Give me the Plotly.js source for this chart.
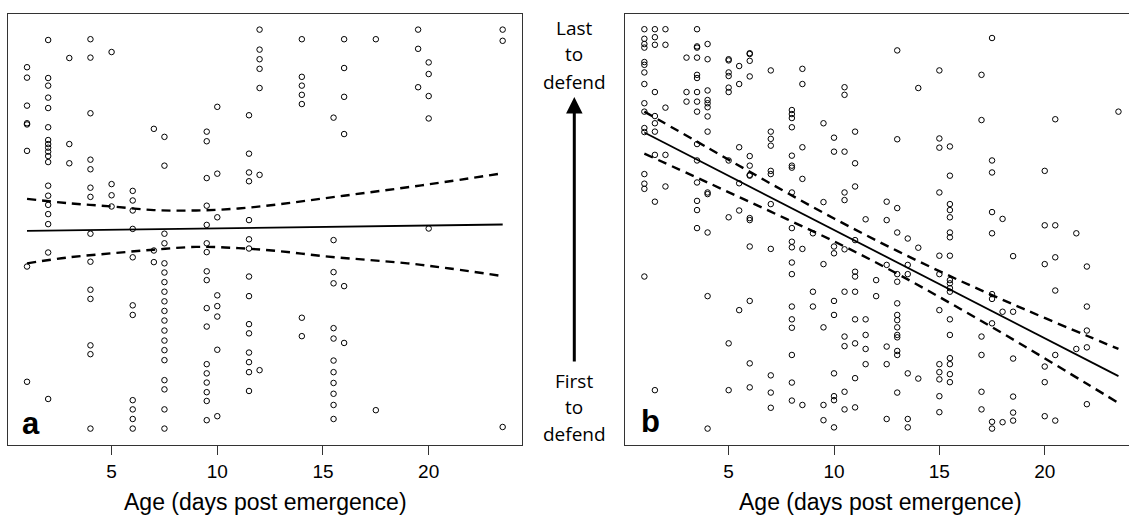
<!DOCTYPE html>
<html>
<head>
<meta charset="utf-8">
<script src="https://cdn.plot.ly/plotly-3.0.1.min.js"></script>
<style>html,body{margin:0;padding:0;background:#fff;}#chart{width:1129px;height:518px;}</style>
</head>
<body>
<div id="chart"></div>
<script>
// ---------- Panel a: points (age, relative defence order 0-100) ----------
const aX1 = [1,1,1,1,1,1,1,1];
const aY1 = [90.3,87.7,80.7,76.3,76.0,69.4,40.5,11.7];
const aX2 = [2,2,2,2,2,2,2,2,2,2,2,2,2,2,2,2,2,2,2];
const aY2 = [97.1,87.6,85.7,82.7,80.1,75.3,72.1,71.1,70.2,69.2,68.1,66.6,60.7,58.2,55.9,53.6,51.1,44.0,7.4];
const aX3 = [3,3,3];
const aY3 = [92.6,71.1,66.3];
const aX4 = [4,4,4,4,4,4,4,4,4,4,4,4,4,4];
const aY4 = [97.3,92.7,78.8,67.2,64.8,60.2,57.9,48.7,41.7,34.7,32.4,20.8,18.6,0.0];
const aX5 = [5,5,5,5];
const aY5 = [94.1,61.1,58.3,55.5];
const aX6 = [6,6,6,6,6,6,6,6,6,6,6];
const aY6 = [59.4,57.0,54.5,49.9,42.8,30.8,28.4,7.1,4.8,2.4,0.0];
const aX7 = [7,7,7];
const aY7 = [74.9,44.5,41.6];
const aX75 = [7.5,7.5,7.5,7.5,7.5,7.5,7.5,7.5,7.5,7.5,7.5,7.5,7.5,7.5,7.5,7.5,7.5,7.5,7.5];
const aY75 = [72.9,65.7,48.7,46.3,41.3,39.0,36.6,34.2,31.8,29.4,27.0,24.5,22.0,19.6,17.1,12.1,9.8,4.8,0.0];
const aX95 = [9.5,9.5,9.5,9.5,9.5,9.5,9.5,9.5,9.5,9.5,9.5,9.5,9.5,9.5,9.5,9.5,9.5];
const aY95 = [74.2,71.8,62.6,55.7,50.9,46.3,44.1,39.3,37.1,30.1,25.5,16.1,13.8,11.5,9.1,6.9,2.1];
const aX10 = [10,10,10,10,10,10,10,10];
const aY10 = [80.4,63.7,52.8,33.3,30.6,28.0,19.7,3.1];
const aX115 = [11.5,11.5,11.5,11.5,11.5,11.5,11.5,11.5,11.5,11.5,11.5,11.5,11.5,11.5,11.5];
const aY115 = [78.3,68.7,64.0,61.8,52.1,47.3,45.0,38.0,33.1,26.1,23.8,19.0,16.6,14.1,9.4];
const aX12 = [12,12,12,12,12,12,12];
const aY12 = [99.7,94.7,92.3,89.9,85.1,63.4,14.6];
const aX14 = [14,14,14,14,14,14,14];
const aY14 = [97.3,87.9,85.7,83.4,81.1,27.7,23.1];
const aX155 = [15.5,15.5,15.5,15.5,15.5,15.5,15.5,15.5,15.5,15.5,15.5,15.5];
const aY155 = [77.7,47.1,39.1,36.3,25.1,22.5,17.0,14.1,11.4,8.7,5.9,2.4];
const aX16 = [16,16,16,16,16,16];
const aY16 = [97.3,90.1,82.9,73.6,35.6,21.4];
const aXlate = [17.5,17.5,19.5,19.5,19.5,20,20,20,20,20,23.5,23.5,23.5];
const aYlate = [97.3,4.6,99.7,94.9,85.3,91.5,88.6,83.1,77.5,50.0,99.7,96.9,0.4];

// Panel a fitted line and confidence band
const aFitX = [1, 23.5];
const aFitY = [49.4, 51.0];
const aBandX = [1,3,5,7,9,11,13,15,17,19,21,23.5];
const aUpper = [57.4,56.3,55.5,54.6,54.5,55.0,56.1,57.5,58.9,60.3,61.8,63.8];
const aLower = [41.3,42.8,43.8,44.7,45.4,45.1,44.3,43.1,42.2,41.3,40.0,38.1];

// ---------- Panel b: points ----------
const bX1 = [1,1,1,1,1,1,1,1,1,1,1,1,1,1,1,1];
const bY1 = [99.8,97.4,96.1,95.2,91.6,90.9,89.0,86.1,81.3,79.2,75.1,74.1,63.6,61.2,59.9,38.0];
const bX15 = [1.5,1.5,1.5,1.5,1.5,1.5,1.5,1.5,1.5,1.5];
const bY15 = [99.8,97.8,95.9,84.1,78.1,76.3,74.2,68.4,56.7,9.6];
const bX2 = [2,2,2,2,2];
const bY2 = [99.8,95.9,80.2,68.4,60.5];
const bX3 = [3,3,3];
const bY3 = [92.7,84.1,81.7];
const bX35 = [3.5,3.5,3.5,3.5,3.5,3.5,3.5,3.5,3.5,3.5,3.5,3.5,3.5,3.5,3.5];
const bY35 = [99.8,95.5,95.2,92.7,88.4,87.6,84.1,81.7,79.2,71.1,67.0,61.5,56.9,54.6,50.1];
const bX4 = [4,4,4,4,4,4,4,4,4,4,4,4,4];
const bY4 = [96.1,92.3,84.5,82.1,81.3,80.3,78.0,74.2,59.0,58.6,49.0,33.1,0.0];
const bX5 = [5,5,5,5,5,5,5,5,5,5];
const bY5 = [92.3,92.0,89.0,88.1,85.2,84.1,67.0,52.8,21.3,9.6];
const bX55 = [5.5,5.5,5.5,5.5,5.5,5.5];
const bY55 = [90.6,86.1,70.3,61.3,54.5,29.6];
const bX6 = [6,6,6,6,6,6,6,6,6,6,6,6,6,6];
const bY6 = [93.8,93.6,91.9,88.0,68.1,65.7,63.4,63.2,52.6,52.1,45.5,31.9,16.3,10.3];
const bX7 = [7,7,7,7,7,7,7,7,7,7,7];
const bY7 = [89.5,74.2,72.4,70.7,64.4,63.6,56.1,44.9,13.3,9.0,5.2];
const bX8 = [8,8,8,8,8,8,8,8,8,8,8,8,8,8,8,8,8,8,8];
const bY8 = [79.6,78.6,77.6,75.3,68.2,65.7,65.2,59.0,50.1,46.7,45.3,41.5,38.6,30.5,27.3,25.2,18.4,11.5,7.0];
const bX85 = [8.5,8.5,8.5,8.5,8.5,8.5,9,9,9];
const bY85 = [89.9,86.1,70.3,62.4,44.9,5.9,48.8,34.2,30.5];
const bX95 = [9.5,9.5,9.5,9.5,9.5,9.5];
const bY95 = [76.3,56.6,41.1,25.3,5.9,2.1];
const bX10 = [10,10,10,10,10,10,10,10,10,10];
const bY10 = [72.7,69.2,45.5,43.8,31.9,28.4,13.8,8.1,7.1,0.3];
const bX105 = [10.5,10.5,10.5,10.5,10.5,10.5,10.5,10.5,10.5,10.5,10.5];
const bY105 = [85.3,83.4,69.2,59.0,57.1,44.8,34.2,23.0,20.6,9.2,4.8];
const bX11 = [11,11,11,11,11,11,11,11,11,11,11];
const bY11 = [74.2,66.3,60.5,47.1,39.2,38.0,34.2,27.3,21.3,12.6,5.3];
const bX115 = [11.5,11.5,11.5,11.5,11.5,12,12];
const bY115 = [52.3,27.3,23.4,19.9,16.1,37.1,33.1];
const bX125 = [12.5,12.5,12.5,12.5,12.5,12.5];
const bY125 = [56.7,52.1,40.9,20.5,16.1,2.4];
const bX13 = [13,13,13,13,13,13,13,13,13,13,13,13,13,13,13];
const bY13 = [94.5,72.3,55.1,49.0,38.6,36.7,31.3,28.4,27.1,25.3,23.4,22.8,19.4,18.4,9.0];
const bX135 = [13.5,13.5,13.5,13.5,13.5,13.5,14,14,14];
const bY135 = [47.5,40.9,38.6,13.8,2.4,0.3,85.1,45.2,12.5];
const bX15b = [15,15,15,15,15,15,15,15,15,15,15,15];
const bY15b = [89.5,72.5,70.2,59.0,43.2,38.6,29.6,16.1,14.1,12.3,8.1,4.1];
const bX155 = [15.5,15.5,15.5,15.5,15.5,15.5,15.5,15.5,15.5,15.5,15.5,15.5,15.5,15.5,15.5,15.5,15.5,15.5];
const bY155 = [70.5,63.2,56.1,54.6,52.8,49.0,47.8,43.2,37.1,36.3,35.1,34.2,27.3,23.4,17.6,16.1,13.6,11.6];
const bX17 = [17,17,17,17,17,17];
const bY17 = [88.4,77.1,23.0,18.4,9.2,4.8];
const bX175 = [17.5,17.5,17.5,17.5,17.5,17.5,17.5,17.5,17.5,17.5];
const bY175 = [97.6,67.0,64.0,54.1,48.8,33.6,32.4,26.3,1.7,0.0];
const bX18 = [18,18,18,18.5,18.5,18.5,18.5,18.5,18.5];
const bY18 = [52.4,29.2,1.6,43.1,29.2,17.5,8.0,4.0,2.0];
const bX20 = [20,20,20,20,20,20,20.5,20.5,20.5,20.5,20.5,20.5];
const bY20 = [64.4,50.8,41.1,15.5,11.6,3.1,77.3,50.8,42.8,34.5,18.4,2.0];
const bXlate = [21.5,21.5,22,22,22,22,22,23.5];
const bYlate = [48.8,19.9,40.5,30.5,24.5,20.3,6.1,79.2];

// Panel b fitted line and confidence band
const bFitX = [1, 23.5];
const bFitY = [74.0, 13.1];
const bBandX = [1,4,7,10,13,16,19,22,23.5];
const bUpper = [79.2,70.2,61.2,52.5,44.4,36.9,29.9,23.2,19.9];
const bLower = [68.7,61.5,54.2,46.8,38.7,29.9,20.7,11.2,6.4];

const tickVals = [5,10,15,20];
const tickText = ['5','10','15','20'];
const xTitle = 'Age (days post emergence)';

// ---------- build ----------
const concat = arrs => [].concat(...arrs);
const aX = concat([aX1,aX2,aX3,aX4,aX5,aX6,aX7,aX75,aX95,aX10,aX115,aX12,aX14,aX155,aX16,aXlate]);
const aY = concat([aY1,aY2,aY3,aY4,aY5,aY6,aY7,aY75,aY95,aY10,aY115,aY12,aY14,aY155,aY16,aYlate]);
const bX = concat([bX1,bX15,bX2,bX3,bX35,bX4,bX5,bX55,bX6,bX7,bX8,bX85,bX95,bX10,bX105,bX11,bX115,bX125,bX13,bX135,bX15b,bX155,bX17,bX175,bX18,bX20,bXlate]);
const bY = concat([bY1,bY15,bY2,bY3,bY35,bY4,bY5,bY55,bY6,bY7,bY8,bY85,bY95,bY10,bY105,bY11,bY115,bY125,bY13,bY135,bY15b,bY155,bY17,bY175,bY18,bY20,bYlate]);

const pointStyle = {symbol:'circle-open', size:5.5, color:'#000', line:{width:1, color:'#000'}};
const dashLine = () => ({color:'#000', width:2.4, dash:'9px,6px', shape:'spline'});
const solidLine = () => ({color:'#000', width:1.8});

const traces = [
  {x:aX, y:aY, type:'scatter', mode:'markers', marker:pointStyle, xaxis:'x', yaxis:'y'},
  {x:aBandX, y:aUpper, type:'scatter', mode:'lines', line:dashLine(), xaxis:'x', yaxis:'y'},
  {x:aBandX, y:aLower, type:'scatter', mode:'lines', line:dashLine(), xaxis:'x', yaxis:'y'},
  {x:aFitX, y:aFitY, type:'scatter', mode:'lines', line:solidLine(), xaxis:'x', yaxis:'y'},
  {x:bX, y:bY, type:'scatter', mode:'markers', marker:pointStyle, xaxis:'x2', yaxis:'y2'},
  {x:bBandX, y:bUpper, type:'scatter', mode:'lines', line:dashLine(), xaxis:'x2', yaxis:'y2'},
  {x:bBandX, y:bLower, type:'scatter', mode:'lines', line:dashLine(), xaxis:'x2', yaxis:'y2'},
  {x:bFitX, y:bFitY, type:'scatter', mode:'lines', line:solidLine(), xaxis:'x2', yaxis:'y2'}
];

const W = 1129, H = 518;
const px = v => v / W, py = v => (H - v) / H;

const axBase = {
  showgrid:false, zeroline:false, showline:true, linecolor:'#333', linewidth:1,
  ticks:'outside', ticklen:9, tickwidth:1, tickcolor:'#333',
  tickvals:tickVals, ticktext:tickText,
  tickfont:{family:'Liberation Sans, Arial, sans-serif', size:19, color:'#000'}
};
const yBase = {showgrid:false, zeroline:false, showline:true, linecolor:'#333', linewidth:1,
  showticklabels:false, ticks:'', range:[-4.1, 103.6], domain:[py(445), py(14)]};

const txtFont = {family:'Open Sans, sans-serif', size:19, color:'#000'};
const titleFont = {family:'Liberation Sans, Arial, sans-serif', size:23, color:'#000'};
const annotations = [
  {text:xTitle, xref:'paper', yref:'paper', x:px(265.5), y:py(502), xanchor:'center', yanchor:'middle', showarrow:false, font:titleFont},
  {text:xTitle, xref:'paper', yref:'paper', x:px(880), y:py(502), xanchor:'center', yanchor:'middle', showarrow:false, font:titleFont},
  {text:'<b>a</b>', xref:'paper', yref:'paper', x:px(30.5), y:py(423), xanchor:'center', yanchor:'middle', showarrow:false,
   font:{family:'Liberation Sans, Arial, sans-serif', size:31, color:'#000'}},
  {text:'<b>b</b>', xref:'paper', yref:'paper', x:px(650), y:py(421), xanchor:'center', yanchor:'middle', showarrow:false,
   font:{family:'Liberation Sans, Arial, sans-serif', size:31, color:'#000'}},
  {text:'Last', xref:'paper', yref:'paper', x:px(574), y:py(28), xanchor:'center', yanchor:'middle', showarrow:false, font:txtFont},
  {text:'to', xref:'paper', yref:'paper', x:px(574), y:py(54), xanchor:'center', yanchor:'middle', showarrow:false, font:txtFont},
  {text:'defend', xref:'paper', yref:'paper', x:px(574), y:py(82), xanchor:'center', yanchor:'middle', showarrow:false, font:txtFont},
  {text:'First', xref:'paper', yref:'paper', x:px(574), y:py(381), xanchor:'center', yanchor:'middle', showarrow:false, font:txtFont},
  {text:'to', xref:'paper', yref:'paper', x:px(574), y:py(407), xanchor:'center', yanchor:'middle', showarrow:false, font:txtFont},
  {text:'defend', xref:'paper', yref:'paper', x:px(574), y:py(434), xanchor:'center', yanchor:'middle', showarrow:false, font:txtFont},
  {text:'', xref:'paper', yref:'paper', x:px(574.3), y:py(97), ax:0, ay:266, showarrow:true,
   arrowhead:2, arrowsize:1.1, arrowwidth:3, arrowcolor:'#000', standoff:0}
];

const layout = {
  width:W, height:H, margin:{l:0, r:0, t:0, b:0},
  paper_bgcolor:'#fff', plot_bgcolor:'#fff', showlegend:false,
  xaxis: Object.assign({}, axBase, {domain:[px(8), px(521.7)], range:[0.1, 24.4], mirror:true, anchor:'y'}),
  yaxis: Object.assign({}, yBase, {mirror:true, anchor:'x'}),
  xaxis2: Object.assign({}, axBase, {domain:[px(625.4), 1], range:[0.1, 24.0], mirror:true, anchor:'y2'}),
  yaxis2: Object.assign({}, yBase, {mirror:false, anchor:'x2'}),
  annotations: annotations
};

Plotly.newPlot('chart', traces, layout, {staticPlot:true, displayModeBar:false});
</script>
</body>
</html>
